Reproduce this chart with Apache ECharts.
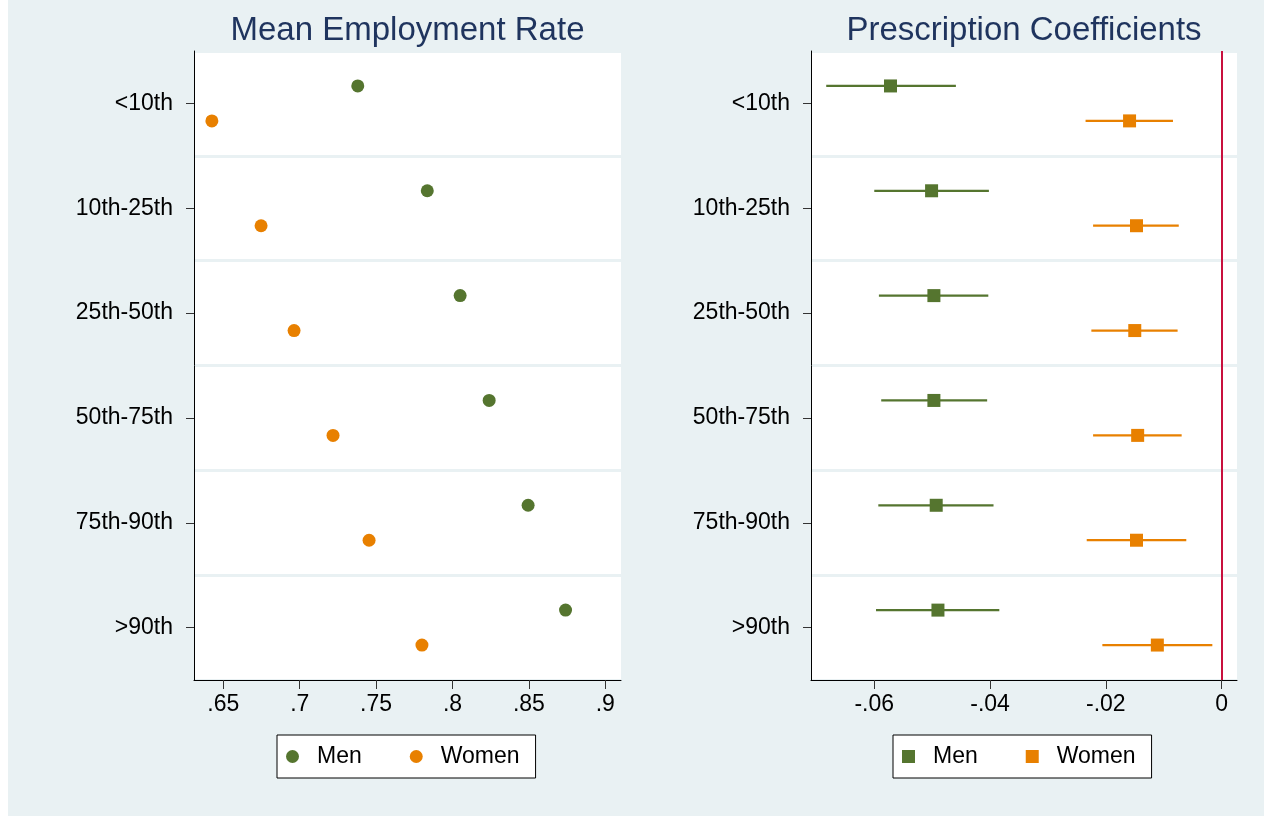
<!DOCTYPE html>
<html>
<head>
<meta charset="utf-8">
<title>Employment and prescription coefficients by percentile</title>
<script src="https://cdn.jsdelivr.net/npm/echarts@6/dist/echarts.min.js"></script>
<style>
  html, body { margin: 0; padding: 0; background: #ffffff; }
  #chart { width: 1264px; height: 824px; }
</style>
</head>
<body>
<div id="chart"></div>
<script>
// Percentile groups (rows, top to bottom)
const categories = ['<10th', '10th-25th', '25th-50th', '50th-75th', '75th-90th', '>90th'];

// Mean employment rate by group
const empMen   = [0.738, 0.7835, 0.805, 0.824, 0.8495, 0.874];
const empWomen = [0.6425, 0.6747, 0.6963, 0.7218, 0.7454, 0.780];

// Prescription coefficients with confidence bounds
const coefMen   = [-0.0572, -0.0501, -0.0497, -0.0497, -0.0493, -0.0490];
const menLo     = [-0.0683, -0.0600, -0.0592, -0.0588, -0.0593, -0.0597];
const menHi     = [-0.0459, -0.0402, -0.0403, -0.0405, -0.0394, -0.0384];
const coefWomen = [-0.0159, -0.0147, -0.0150, -0.0145, -0.0147, -0.0111];
const womenLo   = [-0.0235, -0.0222, -0.0225, -0.0222, -0.0233, -0.0206];
const womenHi   = [-0.0084, -0.0074, -0.0076, -0.0069, -0.0061, -0.0016];

// Axis tick values
const empTicks  = [0.65, 0.7, 0.75, 0.8, 0.85, 0.9];
const coefTicks = [-0.06, -0.04, -0.02, 0];

const GREEN = '#55752f';
const ORANGE = '#e88000';
const FONT = '"Liberation Sans", Arial, Helvetica, sans-serif';
const BG = '#e9f1f3';

// Within each row, men sit one third down and women two thirds down
const menRow = i => i + 1 / 3;
const womenRow = i => i + 2 / 3;

const stripZero = v => String(v).replace('0.', '.');

function catAxis(gridIndex) {
  return {
    type: 'category',
    gridIndex,
    position: 'left',
    data: categories,
    inverse: true,
    boundaryGap: true,
    axisLine: { show: true, onZero: false, lineStyle: { color: '#000', width: 1 } },
    axisTick: { show: true, alignWithLabel: true, length: 8, lineStyle: { color: '#333', width: 1 } },
    axisLabel: { margin: 21, fontSize: 23, fontFamily: FONT, color: '#000' },
    splitLine: { show: true, lineStyle: { color: BG, width: 3 } }
  };
}
function rowAxis(gridIndex) {
  return { type: 'value', gridIndex, min: 0, max: 6, inverse: true, show: false, splitLine: { show: false } };
}
function valAxis(gridIndex, min, max, ticks) {
  return {
    type: 'value',
    gridIndex, min, max,
    position: 'bottom',
    axisLine: { show: true, onZero: false, lineStyle: { color: '#000', width: 1 } },
    axisTick: { show: true, length: 9, customValues: ticks, lineStyle: { color: '#333', width: 1 } },
    axisLabel: { customValues: ticks, margin: 13, fontSize: 23, fontFamily: FONT, color: '#000',
                 formatter: v => stripZero(v) },
    splitLine: { show: false }
  };
}

const errorBar = (color) => (params, api) => {
  const a = api.coord([api.value(0), api.value(2)]);
  const b = api.coord([api.value(1), api.value(2)]);
  return { type: 'line', shape: { x1: a[0], y1: a[1], x2: b[0], y2: b[1] },
           style: { stroke: color, lineWidth: 2.2 } };
};

function legend(left, icon) {
  return {
    left, top: 735,
    orient: 'horizontal',
    backgroundColor: '#fff',
    borderColor: '#000', borderWidth: 1, borderRadius: 0,
    padding: [10, 16, 10, 9],
    itemWidth: 13, itemHeight: 13, itemGap: 48,
    selectedMode: false,
    data: [{ name: 'Men', icon }, { name: 'Women', icon }],
    formatter: n => '{t|' + n + '}',
    textStyle: { color: '#000', fontFamily: FONT, fontSize: 23,
                 rich: { t: { fontSize: 23, fontFamily: FONT, color: '#000', padding: [0, 0, 0, 13], lineHeight: 23 } } }
  };
}

const chart = echarts.init(document.getElementById('chart'), null, { renderer: 'canvas' });
chart.setOption({
  backgroundColor: BG,
  animation: false,
  textStyle: { fontFamily: FONT },
  graphic: {
    elements: [
      { type: 'rect', left: 0, top: 0, shape: { width: 8, height: 824 }, style: { fill: '#fff' }, silent: true },
      { type: 'rect', left: 0, top: 816, shape: { width: 1264, height: 8 }, style: { fill: '#fff' }, silent: true },
      { type: 'text', x: 407.5, y: 31, silent: true,
        style: { text: 'Mean Employment Rate', fontSize: 33, fontFamily: FONT, fill: '#1f345e',
                 textAlign: 'center', textVerticalAlign: 'middle' } },
      { type: 'text', x: 1024, y: 31, silent: true,
        style: { text: 'Prescription Coefficients', fontSize: 33, fontFamily: FONT, fill: '#1f345e',
                 textAlign: 'center', textVerticalAlign: 'middle' } }
    ]
  },
  grid: [
    { left: 194, top: 51, width: 427, height: 629, show: true, backgroundColor: '#fff', borderWidth: 0, containLabel: false },
    { left: 811, top: 51, width: 426, height: 629, show: true, backgroundColor: '#fff', borderWidth: 0, containLabel: false }
  ],
  xAxis: [
    valAxis(0, 0.6308, 0.9103, empTicks),
    valAxis(1, -0.07093, 0.00266, coefTicks)
  ],
  yAxis: [catAxis(0), rowAxis(0), catAxis(1), rowAxis(1)],
  legend: [legend(277, 'circle'), legend(893, 'rect')],
  series: [
    { name: 'Men', type: 'scatter', xAxisIndex: 0, yAxisIndex: 1, symbol: 'circle', symbolSize: 13,
      itemStyle: { color: GREEN, opacity: 1 },
      data: empMen.map((v, i) => [v, menRow(i)]) },
    { name: 'Women', type: 'scatter', xAxisIndex: 0, yAxisIndex: 1, symbol: 'circle', symbolSize: 13,
      itemStyle: { color: ORANGE, opacity: 1 },
      data: empWomen.map((v, i) => [v, womenRow(i)]) },
    { name: 'Men CI', type: 'custom', xAxisIndex: 1, yAxisIndex: 3, renderItem: errorBar(GREEN),
      encode: { x: [0, 1], y: 2 }, z: 2,
      data: menLo.map((lo, i) => [lo, menHi[i], menRow(i)]) },
    { name: 'Women CI', type: 'custom', xAxisIndex: 1, yAxisIndex: 3, renderItem: errorBar(ORANGE),
      encode: { x: [0, 1], y: 2 }, z: 2,
      data: womenLo.map((lo, i) => [lo, womenHi[i], womenRow(i)]) },
    { name: 'Men', type: 'scatter', xAxisIndex: 1, yAxisIndex: 3, symbol: 'rect', symbolSize: 13, z: 3,
      itemStyle: { color: GREEN, opacity: 1 },
      data: coefMen.map((v, i) => [v, menRow(i)]),
      markLine: { silent: true, symbol: 'none', label: { show: false },
                  lineStyle: { color: '#c8103e', width: 2, type: 'solid' },
                  data: [{ xAxis: 0 }] } },
    { name: 'Women', type: 'scatter', xAxisIndex: 1, yAxisIndex: 3, symbol: 'rect', symbolSize: 13, z: 3,
      itemStyle: { color: ORANGE, opacity: 1 },
      data: coefWomen.map((v, i) => [v, womenRow(i)]) }
  ]
});
</script>
</body>
</html>
